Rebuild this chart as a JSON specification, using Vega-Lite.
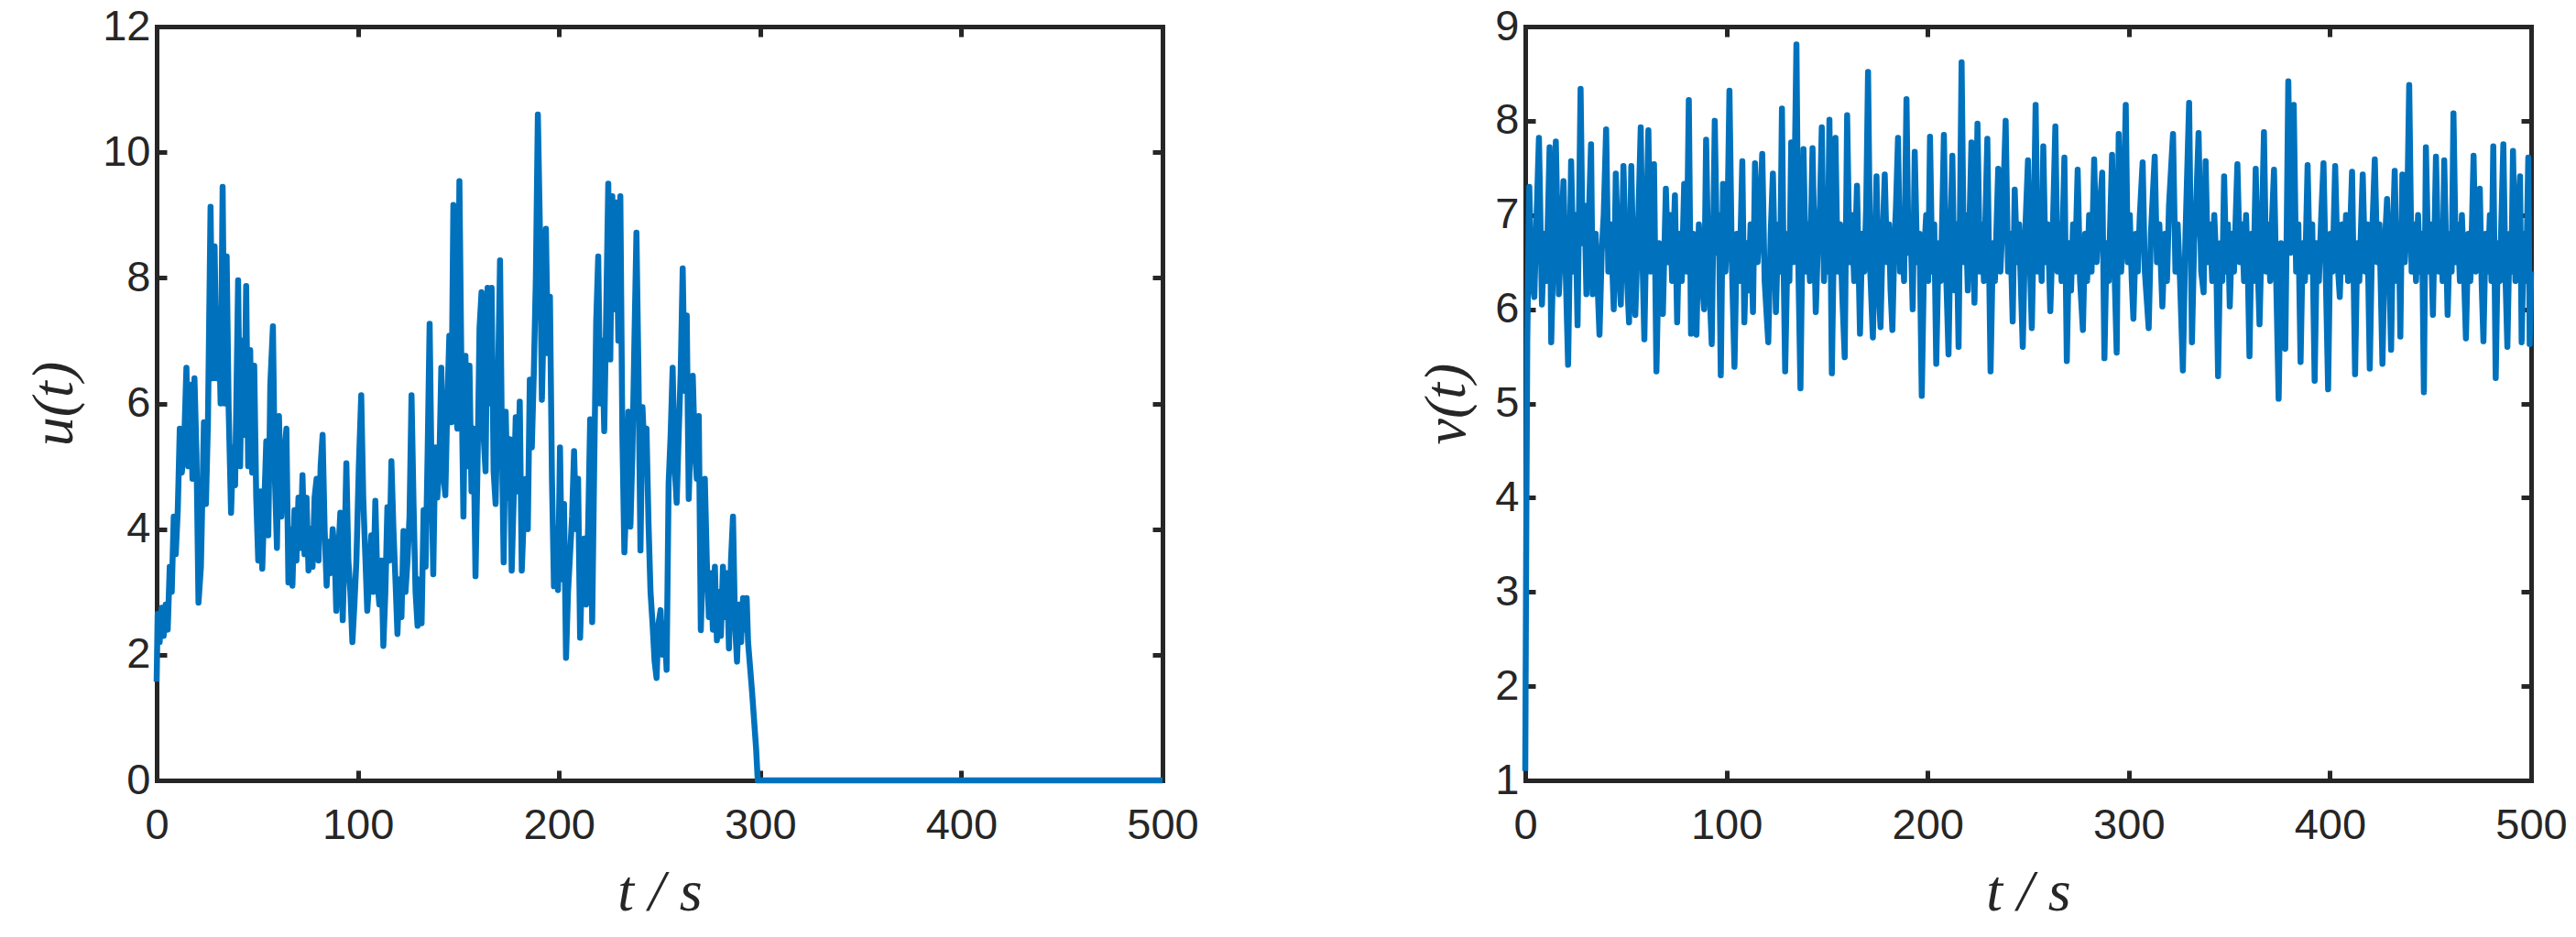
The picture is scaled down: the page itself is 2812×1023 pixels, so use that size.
{
"$schema": "https://vega.github.io/schema/vega-lite/v6.json",
"background": "white",
"padding": {"left": 27, "top": 5, "right": 5, "bottom": 5},
"spacing": 238,
"datasets": {
"u": [{"t":0,"u":1.57},{"t":0.5,"u":2.65},{"t":1.5,"u":2.2},{"t":2.5,"u":2.75},{"t":3.5,"u":2.3},{"t":4.5,"u":2.8},{"t":5.5,"u":2.4},{"t":6.5,"u":3.4},{"t":7.5,"u":3.0},{"t":8.5,"u":4.2},{"t":9.5,"u":3.6},{"t":10.5,"u":4.3},{"t":11.5,"u":5.6},{"t":12.5,"u":4.9},{"t":13.5,"u":5.2},{"t":14.8,"u":6.57},{"t":15.8,"u":5.0},{"t":16.8,"u":6.3},{"t":17.8,"u":4.8},{"t":18.8,"u":6.4},{"t":19.8,"u":5.2},{"t":20.8,"u":2.83},{"t":22,"u":3.4},{"t":23.5,"u":5.7},{"t":24.5,"u":4.4},{"t":25.5,"u":5.7},{"t":26.8,"u":9.13},{"t":27.8,"u":6.4},{"t":28.8,"u":8.5},{"t":29.8,"u":6.4},{"t":30.8,"u":7.5},{"t":31.8,"u":6.0},{"t":32.8,"u":9.45},{"t":33.8,"u":6.0},{"t":34.8,"u":8.34},{"t":35.8,"u":5.9},{"t":37,"u":4.26},{"t":38,"u":5.3},{"t":39,"u":4.7},{"t":40.5,"u":7.96},{"t":41.5,"u":5.0},{"t":42.5,"u":7.0},{"t":43.5,"u":5.5},{"t":44.5,"u":7.87},{"t":45.5,"u":5.0},{"t":46.5,"u":6.85},{"t":47.5,"u":4.9},{"t":48.5,"u":6.6},{"t":49.5,"u":4.5},{"t":50.5,"u":3.5},{"t":51.5,"u":4.6},{"t":52.5,"u":3.37},{"t":53.5,"u":4.4},{"t":54.5,"u":5.4},{"t":55.5,"u":3.9},{"t":56.5,"u":6.3},{"t":57.8,"u":7.23},{"t":58.8,"u":4.8},{"t":59.8,"u":3.7},{"t":60.8,"u":5.8},{"t":62,"u":4.2},{"t":63,"u":5.0},{"t":64.5,"u":5.6},{"t":65.5,"u":3.15},{"t":66.5,"u":4.0},{"t":67.5,"u":3.1},{"t":68.5,"u":4.3},{"t":69.5,"u":3.5},{"t":70.5,"u":4.5},{"t":71.5,"u":3.7},{"t":72.5,"u":4.86},{"t":73.5,"u":3.6},{"t":74.5,"u":4.5},{"t":75.5,"u":3.34},{"t":76.5,"u":4.0},{"t":77.5,"u":3.4},{"t":78.5,"u":4.5},{"t":79.5,"u":4.8},{"t":80.5,"u":3.5},{"t":81.5,"u":5.0},{"t":82.5,"u":5.5},{"t":83.5,"u":4.0},{"t":84.5,"u":3.1},{"t":85.5,"u":3.8},{"t":86.5,"u":3.3},{"t":87.5,"u":4.0},{"t":88.5,"u":3.6},{"t":89.3,"u":2.7},{"t":90.3,"u":3.6},{"t":91.3,"u":4.26},{"t":92.5,"u":2.55},{"t":93.5,"u":3.8},{"t":94.3,"u":5.05},{"t":95.3,"u":3.5},{"t":96.3,"u":3.0},{"t":97.3,"u":2.2},{"t":98.3,"u":2.8},{"t":99.3,"u":3.5},{"t":100.5,"u":5.0},{"t":101.7,"u":6.13},{"t":102.7,"u":4.5},{"t":103.7,"u":3.6},{"t":104.7,"u":2.7},{"t":105.7,"u":3.2},{"t":106.7,"u":3.9},{"t":107.7,"u":3.0},{"t":108.7,"u":4.45},{"t":109.7,"u":3.2},{"t":110.7,"u":2.8},{"t":111.7,"u":3.5},{"t":112.7,"u":2.14},{"t":113.7,"u":3.0},{"t":114.7,"u":4.35},{"t":115.7,"u":3.5},{"t":116.7,"u":5.08},{"t":117.7,"u":4.0},{"t":118.7,"u":3.2},{"t":119.7,"u":2.33},{"t":120.7,"u":3.2},{"t":121.7,"u":2.6},{"t":122.7,"u":3.97},{"t":123.7,"u":3.0},{"t":124.7,"u":3.5},{"t":125.7,"u":4.2},{"t":126.7,"u":6.13},{"t":127.7,"u":4.4},{"t":128.7,"u":3.0},{"t":129.7,"u":2.46},{"t":130.7,"u":3.2},{"t":131.7,"u":2.5},{"t":132.7,"u":4.3},{"t":133.7,"u":3.4},{"t":134.7,"u":5.2},{"t":135.7,"u":7.27},{"t":136.7,"u":4.8},{"t":137.5,"u":3.28},{"t":138.5,"u":5.3},{"t":139.5,"u":4.5},{"t":140.5,"u":5.0},{"t":141.5,"u":6.57},{"t":142.5,"u":4.9},{"t":143.5,"u":4.54},{"t":144.5,"u":6.0},{"t":145.5,"u":7.08},{"t":146.5,"u":5.7},{"t":147.5,"u":9.16},{"t":148.5,"u":6.0},{"t":149.5,"u":5.6},{"t":150.5,"u":9.54},{"t":151.5,"u":6.5},{"t":152.5,"u":4.2},{"t":153.5,"u":6.76},{"t":154.5,"u":5.0},{"t":155.5,"u":6.6},{"t":156.5,"u":4.6},{"t":157.5,"u":5.6},{"t":158.5,"u":3.25},{"t":159.5,"u":5.0},{"t":160.5,"u":7.2},{"t":161.5,"u":7.77},{"t":162.5,"u":5.5},{"t":163.5,"u":4.92},{"t":164.5,"u":7.84},{"t":165.5,"u":6.0},{"t":166.5,"u":7.84},{"t":167.5,"u":4.92},{"t":168.5,"u":4.4},{"t":169.5,"u":6.0},{"t":170.7,"u":8.28},{"t":171.7,"u":5.2},{"t":172.5,"u":3.47},{"t":173.5,"u":5.87},{"t":174.5,"u":4.5},{"t":175.5,"u":5.43},{"t":176.5,"u":3.34},{"t":177.5,"u":4.5},{"t":178.5,"u":5.78},{"t":179.5,"u":4.6},{"t":180.5,"u":6.03},{"t":181.5,"u":3.34},{"t":182.5,"u":4.2},{"t":183.5,"u":4.8},{"t":184.5,"u":4.0},{"t":185.5,"u":6.38},{"t":186.5,"u":5.3},{"t":187.5,"u":6.5},{"t":188.5,"u":8.0},{"t":189.5,"u":10.6},{"t":190.5,"u":8.8},{"t":191.5,"u":6.06},{"t":192.5,"u":7.5},{"t":193.5,"u":8.78},{"t":194.5,"u":6.8},{"t":195.5,"u":7.7},{"t":196.5,"u":4.8},{"t":197.5,"u":3.09},{"t":198.5,"u":4.0},{"t":199.5,"u":3.03},{"t":200.5,"u":5.3},{"t":201.5,"u":3.2},{"t":202.5,"u":4.4},{"t":203.5,"u":1.95},{"t":204.5,"u":3.0},{"t":205.5,"u":3.6},{"t":206.5,"u":4.2},{"t":207.5,"u":5.24},{"t":208.5,"u":4.0},{"t":209.5,"u":4.8},{"t":210.5,"u":2.27},{"t":211.5,"u":3.4},{"t":212.5,"u":3.85},{"t":213.5,"u":2.8},{"t":214.5,"u":4.04},{"t":215.5,"u":5.75},{"t":216.5,"u":2.52},{"t":217.5,"u":5.0},{"t":218.5,"u":7.3},{"t":219.5,"u":8.34},{"t":220.5,"u":6.0},{"t":221.5,"u":7.0},{"t":222.5,"u":5.56},{"t":223.5,"u":7.5},{"t":224.5,"u":9.5},{"t":225.5,"u":6.7},{"t":226.5,"u":9.3},{"t":227.5,"u":7.5},{"t":228.5,"u":9.2},{"t":229.5,"u":7.0},{"t":230.5,"u":9.3},{"t":231.5,"u":5.5},{"t":232.5,"u":3.63},{"t":233.5,"u":4.5},{"t":234.5,"u":5.87},{"t":235.5,"u":4.04},{"t":236.5,"u":5.2},{"t":237.5,"u":7.0},{"t":238.5,"u":8.72},{"t":239.5,"u":6.5},{"t":240.5,"u":3.66},{"t":241.5,"u":5.94},{"t":242.5,"u":5.2},{"t":243.5,"u":5.6},{"t":244.5,"u":4.1},{"t":245.5,"u":3.0},{"t":246.5,"u":2.5},{"t":247.5,"u":1.9},{"t":248.5,"u":1.63},{"t":249.5,"u":2.5},{"t":250.5,"u":2.71},{"t":251.5,"u":2.0},{"t":252.5,"u":2.5},{"t":253.5,"u":1.76},{"t":254.5,"u":4.73},{"t":255.5,"u":5.5},{"t":256.5,"u":6.57},{"t":257.5,"u":5.0},{"t":258.5,"u":4.42},{"t":259.5,"u":5.5},{"t":260.5,"u":6.5},{"t":261.5,"u":8.15},{"t":262.5,"u":6.2},{"t":263.5,"u":7.4},{"t":264.5,"u":4.48},{"t":265.5,"u":5.6},{"t":266.5,"u":6.44},{"t":267.5,"u":5.3},{"t":268.5,"u":4.8},{"t":269.5,"u":5.8},{"t":270.5,"u":2.39},{"t":271.5,"u":3.5},{"t":272.5,"u":4.8},{"t":273.5,"u":3.47},{"t":274.5,"u":2.6},{"t":275.5,"u":3.3},{"t":276.5,"u":2.4},{"t":277.5,"u":3.4},{"t":278.5,"u":2.23},{"t":279.5,"u":3.0},{"t":280.5,"u":2.3},{"t":281.5,"u":3.4},{"t":282.5,"u":2.6},{"t":283.5,"u":3.3},{"t":284.5,"u":2.1},{"t":285.5,"u":3.5},{"t":286.5,"u":4.2},{"t":287.5,"u":2.5},{"t":288.5,"u":1.89},{"t":289.5,"u":2.8},{"t":290.5,"u":2.2},{"t":291.5,"u":2.9},{"t":292.5,"u":2.4},{"t":293.3,"u":2.9},{"t":294,"u":2.2},{"t":295,"u":1.8},{"t":296,"u":1.4},{"t":297,"u":0.95},{"t":298,"u":0.5},{"t":298.8,"u":0},{"t":500,"u":0}],
"v": [{"t":0,"v":1.1},{"t":0.5,"v":3.6},{"t":1,"v":5.66},{"t":2,"v":7.3},{"t":3,"v":6.4},{"t":4.5,"v":6.13},{"t":5.5,"v":6.9},{"t":6.8,"v":7.82},{"t":8.3,"v":6.05},{"t":9.5,"v":6.8},{"t":10.5,"v":6.3},{"t":12.1,"v":7.72},{"t":12.9,"v":5.65},{"t":14,"v":6.6},{"t":15.2,"v":7.78},{"t":16.7,"v":6.16},{"t":18,"v":6.8},{"t":19,"v":7.36},{"t":20,"v":6.5},{"t":21.3,"v":5.41},{"t":22.8,"v":7.57},{"t":24,"v":6.4},{"t":25,"v":7.0},{"t":26,"v":5.83},{"t":27.5,"v":8.34},{"t":28.5,"v":6.7},{"t":29.5,"v":7.1},{"t":30.4,"v":6.16},{"t":31.5,"v":6.9},{"t":32.7,"v":7.75},{"t":33.5,"v":6.16},{"t":35,"v":6.8},{"t":36.9,"v":5.73},{"t":38,"v":6.6},{"t":39,"v":7.0},{"t":40.2,"v":7.91},{"t":41.3,"v":6.4},{"t":42.5,"v":6.9},{"t":44,"v":6.0},{"t":45,"v":7.44},{"t":46.3,"v":6.5},{"t":47.5,"v":6.05},{"t":48.8,"v":7.52},{"t":50,"v":6.6},{"t":51.6,"v":5.86},{"t":52.7,"v":7.52},{"t":53.7,"v":6.5},{"t":54.7,"v":5.94},{"t":56,"v":6.8},{"t":57.4,"v":7.93},{"t":58.3,"v":6.5},{"t":59.2,"v":5.68},{"t":60.2,"v":6.9},{"t":61.2,"v":7.9},{"t":62.3,"v":6.4},{"t":63.2,"v":7.0},{"t":64,"v":7.54},{"t":65.2,"v":5.34},{"t":66.5,"v":6.7},{"t":67.5,"v":6.3},{"t":68.4,"v":5.95},{"t":69.9,"v":7.28},{"t":71,"v":6.5},{"t":72,"v":7.0},{"t":73,"v":6.3},{"t":74.4,"v":7.21},{"t":75.5,"v":5.86},{"t":76.5,"v":6.8},{"t":77.8,"v":6.3},{"t":79,"v":7.33},{"t":80.2,"v":6.4},{"t":81.3,"v":8.22},{"t":82.4,"v":5.74},{"t":83.5,"v":6.8},{"t":85.1,"v":5.73},{"t":86.3,"v":6.9},{"t":87.5,"v":6.4},{"t":88.9,"v":6.0},{"t":89.9,"v":7.8},{"t":91,"v":6.5},{"t":92.7,"v":5.63},{"t":94.2,"v":8.0},{"t":95.3,"v":6.6},{"t":96.2,"v":7.0},{"t":97.2,"v":5.3},{"t":98.3,"v":7.33},{"t":99.5,"v":6.4},{"t":100.5,"v":6.9},{"t":101.5,"v":8.32},{"t":102.7,"v":6.5},{"t":104,"v":5.39},{"t":105.2,"v":6.8},{"t":106.5,"v":6.3},{"t":107.9,"v":7.57},{"t":108.9,"v":5.86},{"t":110,"v":6.7},{"t":111,"v":6.2},{"t":112,"v":6.9},{"t":113.2,"v":5.97},{"t":114.2,"v":7.55},{"t":115.5,"v":6.5},{"t":116.5,"v":6.9},{"t":117.8,"v":7.65},{"t":119,"v":6.3},{"t":120.8,"v":5.65},{"t":122,"v":6.8},{"t":123.1,"v":7.44},{"t":124.6,"v":5.97},{"t":125.8,"v":6.9},{"t":126.7,"v":6.4},{"t":127.6,"v":8.13},{"t":128.4,"v":6.5},{"t":129.2,"v":5.34},{"t":130.5,"v":6.8},{"t":131.3,"v":6.3},{"t":132.2,"v":7.77},{"t":133.3,"v":6.5},{"t":134.8,"v":8.81},{"t":135.8,"v":6.4},{"t":136.8,"v":5.16},{"t":138.3,"v":7.7},{"t":139.5,"v":6.4},{"t":140.5,"v":6.9},{"t":141.5,"v":6.3},{"t":142.8,"v":7.71},{"t":144.4,"v":5.97},{"t":145.5,"v":6.7},{"t":146.5,"v":7.1},{"t":147.4,"v":7.93},{"t":148.5,"v":6.3},{"t":149.5,"v":6.9},{"t":150.3,"v":6.4},{"t":151.2,"v":8.01},{"t":152.4,"v":5.32},{"t":153.3,"v":6.6},{"t":154.2,"v":7.82},{"t":155.3,"v":6.4},{"t":156.5,"v":6.9},{"t":157.5,"v":6.2},{"t":158.8,"v":5.49},{"t":160,"v":8.06},{"t":161.2,"v":6.5},{"t":162.3,"v":7.0},{"t":163.5,"v":6.3},{"t":164.9,"v":7.31},{"t":166.4,"v":5.74},{"t":167.5,"v":6.8},{"t":168.5,"v":6.4},{"t":169.5,"v":7.1},{"t":170.4,"v":8.52},{"t":171.5,"v":6.4},{"t":172.8,"v":5.7},{"t":174.6,"v":7.41},{"t":175.5,"v":6.3},{"t":176.6,"v":5.81},{"t":177.7,"v":6.8},{"t":178.7,"v":7.43},{"t":179.8,"v":6.5},{"t":180.8,"v":6.9},{"t":181.6,"v":6.2},{"t":182.5,"v":5.78},{"t":183.5,"v":6.7},{"t":184.3,"v":7.1},{"t":185.3,"v":7.82},{"t":186.3,"v":6.4},{"t":187.3,"v":6.9},{"t":188.3,"v":6.3},{"t":189.5,"v":8.23},{"t":190.5,"v":6.6},{"t":191.5,"v":6.9},{"t":192.6,"v":6.0},{"t":193.6,"v":7.67},{"t":194.8,"v":6.5},{"t":196,"v":6.8},{"t":197.1,"v":5.08},{"t":198.3,"v":6.6},{"t":199.3,"v":7.0},{"t":200.3,"v":6.3},{"t":201.2,"v":7.83},{"t":202.3,"v":6.4},{"t":203.3,"v":6.9},{"t":204.3,"v":5.42},{"t":205.5,"v":6.7},{"t":206.5,"v":6.3},{"t":207.3,"v":7.0},{"t":208.1,"v":7.85},{"t":209.2,"v":6.4},{"t":210.4,"v":5.52},{"t":211.4,"v":6.8},{"t":212.3,"v":7.63},{"t":213.4,"v":6.2},{"t":214.4,"v":6.9},{"t":215.4,"v":5.6},{"t":216.9,"v":8.62},{"t":218,"v":6.5},{"t":219,"v":7.0},{"t":220,"v":6.2},{"t":221.8,"v":7.77},{"t":223.3,"v":6.07},{"t":224.8,"v":7.97},{"t":226,"v":6.4},{"t":227,"v":6.9},{"t":228,"v":6.3},{"t":229.7,"v":7.81},{"t":231.3,"v":5.34},{"t":232.5,"v":6.7},{"t":233.5,"v":6.3},{"t":235.1,"v":7.49},{"t":236.2,"v":6.4},{"t":237.2,"v":6.9},{"t":238.8,"v":8.0},{"t":240,"v":6.4},{"t":241.2,"v":6.8},{"t":242.3,"v":5.87},{"t":243.3,"v":7.27},{"t":244.5,"v":6.5},{"t":245.5,"v":6.9},{"t":246.3,"v":6.3},{"t":247.3,"v":5.6},{"t":248.5,"v":6.8},{"t":249.9,"v":7.58},{"t":251,"v":6.4},{"t":251.8,"v":5.8},{"t":252.7,"v":6.8},{"t":253.7,"v":8.17},{"t":254.8,"v":6.4},{"t":255.8,"v":6.9},{"t":256.7,"v":6.3},{"t":257.5,"v":7.73},{"t":258.6,"v":6.5},{"t":259.8,"v":6.9},{"t":261,"v":5.98},{"t":262.2,"v":6.8},{"t":263.5,"v":7.94},{"t":264.6,"v":6.4},{"t":265.6,"v":6.9},{"t":266.6,"v":6.3},{"t":267.3,"v":7.0},{"t":268,"v":7.61},{"t":269.2,"v":5.45},{"t":270.3,"v":6.7},{"t":271.3,"v":6.2},{"t":272.3,"v":6.9},{"t":273.3,"v":6.4},{"t":274.6,"v":7.48},{"t":275.8,"v":6.3},{"t":277.2,"v":5.78},{"t":278.3,"v":6.8},{"t":279.3,"v":6.3},{"t":280.3,"v":7.0},{"t":281.5,"v":6.4},{"t":282.8,"v":7.59},{"t":284,"v":6.5},{"t":285,"v":6.9},{"t":286.8,"v":7.45},{"t":287.9,"v":5.48},{"t":289,"v":6.7},{"t":290,"v":6.3},{"t":291.7,"v":7.64},{"t":292.8,"v":6.5},{"t":294,"v":5.54},{"t":295,"v":7.86},{"t":296.2,"v":6.4},{"t":297.3,"v":6.9},{"t":298.5,"v":8.17},{"t":299.5,"v":6.5},{"t":300.5,"v":7.0},{"t":301.5,"v":6.3},{"t":302.3,"v":5.9},{"t":303.5,"v":6.8},{"t":304.5,"v":6.4},{"t":305.5,"v":7.0},{"t":306.9,"v":7.56},{"t":308,"v":6.4},{"t":309.9,"v":5.8},{"t":311,"v":6.8},{"t":312.9,"v":7.62},{"t":314,"v":6.5},{"t":315.2,"v":6.9},{"t":316.7,"v":6.03},{"t":318,"v":6.8},{"t":319,"v":6.3},{"t":320,"v":7.1},{"t":322,"v":7.86},{"t":323.2,"v":6.4},{"t":324.3,"v":6.9},{"t":325.5,"v":6.3},{"t":326.9,"v":5.35},{"t":328.2,"v":6.8},{"t":330,"v":8.19},{"t":331.4,"v":5.65},{"t":332.5,"v":6.7},{"t":333.5,"v":7.1},{"t":334.7,"v":7.87},{"t":336,"v":6.4},{"t":337.2,"v":6.18},{"t":338.2,"v":7.57},{"t":339.3,"v":6.5},{"t":340.3,"v":6.9},{"t":341.5,"v":6.3},{"t":342.5,"v":7.0},{"t":343.5,"v":6.5},{"t":344.4,"v":5.29},{"t":345.5,"v":6.7},{"t":346.5,"v":6.3},{"t":347.4,"v":7.41},{"t":348.5,"v":6.4},{"t":349.3,"v":6.9},{"t":350.2,"v":6.03},{"t":351.3,"v":6.8},{"t":352.3,"v":6.4},{"t":354,"v":7.54},{"t":355.2,"v":6.5},{"t":356.3,"v":6.9},{"t":357.3,"v":6.3},{"t":358.3,"v":7.0},{"t":359.2,"v":6.4},{"t":360,"v":5.5},{"t":361,"v":6.8},{"t":362,"v":6.3},{"t":363.1,"v":7.49},{"t":364.2,"v":6.4},{"t":365,"v":5.84},{"t":366.2,"v":6.9},{"t":367.2,"v":7.88},{"t":368.3,"v":6.4},{"t":369.3,"v":6.9},{"t":370.3,"v":6.3},{"t":371.3,"v":7.0},{"t":372.2,"v":7.48},{"t":373.4,"v":6.2},{"t":374.5,"v":5.05},{"t":375.7,"v":6.7},{"t":376.8,"v":6.3},{"t":377.8,"v":5.58},{"t":378.6,"v":7.0},{"t":379.3,"v":8.42},{"t":380.5,"v":6.6},{"t":382,"v":8.17},{"t":383.2,"v":6.4},{"t":384.3,"v":6.9},{"t":385.4,"v":5.44},{"t":386.5,"v":6.7},{"t":387.6,"v":6.3},{"t":388.9,"v":7.53},{"t":390,"v":6.4},{"t":391.2,"v":6.9},{"t":392.4,"v":5.24},{"t":393.5,"v":6.7},{"t":394.5,"v":6.3},{"t":395.7,"v":7.0},{"t":396.8,"v":7.55},{"t":398,"v":6.3},{"t":399.1,"v":5.15},{"t":400.2,"v":6.8},{"t":401.3,"v":6.4},{"t":402.6,"v":7.52},{"t":403.8,"v":6.5},{"t":404.9,"v":6.13},{"t":406,"v":6.9},{"t":407,"v":6.4},{"t":408,"v":7.0},{"t":409,"v":6.3},{"t":410,"v":6.8},{"t":411,"v":7.46},{"t":412.5,"v":5.31},{"t":413.6,"v":6.7},{"t":414.6,"v":6.3},{"t":416.3,"v":7.43},{"t":417.5,"v":6.4},{"t":418.6,"v":6.9},{"t":419.8,"v":5.37},{"t":421,"v":6.8},{"t":422.3,"v":7.59},{"t":423.5,"v":6.5},{"t":424.6,"v":6.9},{"t":426.1,"v":5.42},{"t":427.3,"v":6.7},{"t":428.4,"v":7.17},{"t":429.5,"v":6.4},{"t":430.4,"v":5.57},{"t":431.3,"v":6.8},{"t":432.2,"v":7.47},{"t":433.3,"v":6.3},{"t":434.2,"v":6.9},{"t":435,"v":5.71},{"t":436,"v":7.43},{"t":437.2,"v":6.5},{"t":438.3,"v":6.9},{"t":439.4,"v":8.38},{"t":440.6,"v":6.4},{"t":441.7,"v":6.9},{"t":442.8,"v":6.3},{"t":443.8,"v":7.0},{"t":444.8,"v":6.4},{"t":445.8,"v":6.8},{"t":446.7,"v":5.12},{"t":447.7,"v":7.72},{"t":449,"v":6.4},{"t":450,"v":6.9},{"t":451.2,"v":5.94},{"t":452.7,"v":7.62},{"t":454,"v":6.4},{"t":455,"v":6.9},{"t":456,"v":6.3},{"t":456.8,"v":7.58},{"t":458.5,"v":5.94},{"t":459.6,"v":6.8},{"t":460.5,"v":6.4},{"t":461.4,"v":8.08},{"t":462.6,"v":6.5},{"t":463.6,"v":6.9},{"t":464.6,"v":6.3},{"t":465.6,"v":7.0},{"t":466.6,"v":6.4},{"t":467.6,"v":5.69},{"t":468.8,"v":6.8},{"t":469.8,"v":6.3},{"t":470.6,"v":6.9},{"t":471.4,"v":7.63},{"t":472.5,"v":6.4},{"t":473.5,"v":6.9},{"t":474.5,"v":7.28},{"t":475.4,"v":6.3},{"t":476.3,"v":5.66},{"t":477.4,"v":6.8},{"t":478.5,"v":6.4},{"t":479.5,"v":7.0},{"t":480.3,"v":6.3},{"t":481.2,"v":7.73},{"t":482.4,"v":5.27},{"t":483.5,"v":6.7},{"t":484.5,"v":6.3},{"t":485.3,"v":7.0},{"t":486.2,"v":7.75},{"t":487.2,"v":6.4},{"t":488.2,"v":5.6},{"t":489.3,"v":6.8},{"t":490.2,"v":6.4},{"t":491,"v":7.68},{"t":492.2,"v":6.3},{"t":493.3,"v":6.9},{"t":494.5,"v":7.41},{"t":495.3,"v":5.65},{"t":496.4,"v":6.8},{"t":497.5,"v":6.3},{"t":498.6,"v":7.61},{"t":499.3,"v":5.63},{"t":500,"v":6.4}]
},
"hconcat": [
{
"width": 1098, "height": 823,
"data": {"name": "u"},
"layer": [
{"mark": {"type": "line", "color": "#0072BD", "strokeWidth": 6.5, "strokeJoin": "round"},
 "encoding": {
  "x": {"field": "t", "type": "quantitative", "scale": {"domain": [0, 500], "nice": false, "zero": false}, "axis": {"orient": "bottom", "values": [0,100,200,300,400,500], "title": "t / s"}},
  "y": {"field": "u", "type": "quantitative", "scale": {"domain": [0, 12], "nice": false}, "axis": {"orient": "left", "values": [0,2,4,6,8,10,12], "title": "u(t)"}}
 }},
{"mark": {"type": "line", "strokeOpacity": 0},
 "encoding": {
  "x": {"field": "t", "type": "quantitative", "axis": {"orient": "top", "values": [0,100,200,300,400,500], "labels": false, "title": null}},
  "y": {"field": "u", "type": "quantitative", "axis": {"orient": "right", "values": [0,2,4,6,8,10,12], "labels": false, "title": null}}
 }}
],
"resolve": {"axis": {"x": "independent", "y": "independent"}}
},
{
"width": 1098, "height": 823,
"data": {"name": "v"},
"layer": [
{"mark": {"type": "line", "color": "#0072BD", "strokeWidth": 6.5, "strokeJoin": "round"},
 "encoding": {
  "x": {"field": "t", "type": "quantitative", "scale": {"domain": [0, 500], "nice": false, "zero": false}, "axis": {"orient": "bottom", "values": [0,100,200,300,400,500], "title": "t / s"}},
  "y": {"field": "v", "type": "quantitative", "scale": {"domain": [1, 9], "nice": false, "zero": false}, "axis": {"orient": "left", "values": [1,2,3,4,5,6,7,8,9], "title": "v(t)"}}
 }},
{"mark": {"type": "line", "strokeOpacity": 0},
 "encoding": {
  "x": {"field": "t", "type": "quantitative", "axis": {"orient": "top", "values": [0,100,200,300,400,500], "labels": false, "title": null}},
  "y": {"field": "v", "type": "quantitative", "axis": {"orient": "right", "values": [1,2,3,4,5,6,7,8,9], "labels": false, "title": null}}
 }}
],
"resolve": {"axis": {"x": "independent", "y": "independent"}}
}
],
"config": {
 "view": {"stroke": null},
 "axis": {
  "grid": false,
  "domainColor": "#262626", "domainWidth": 5, "domainCap": "square",
  "tickColor": "#262626", "tickWidth": 5, "tickSize": -11,
  "labelFont": "Liberation Sans", "labelFontSize": 47, "labelColor": "#262626",
  "labelFlush": false, "labelOverlap": false,
  "titleFont": "Liberation Serif", "titleFontStyle": "italic", "titleFontWeight": "normal",
  "titleFontSize": 64, "titleColor": "#262626"
 },
 "axisX": {"labelPadding": 37, "titlePadding": 18},
 "axisY": {"labelPadding": 18, "titlePadding": 20}
}
}
